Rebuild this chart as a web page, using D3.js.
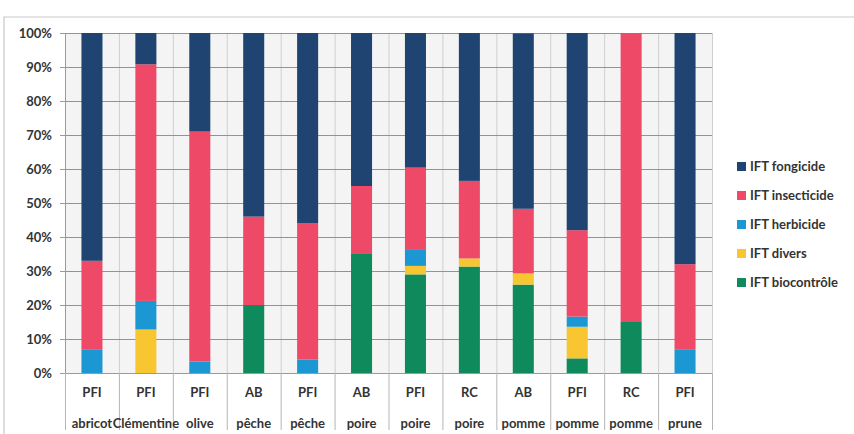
<!DOCTYPE html>
<html><head><meta charset="utf-8">
<script src="https://cdn.jsdelivr.net/npm/d3@7"></script>
<style>
body{margin:0;background:#fff;}
svg{display:block;}
text{font-family:Lato,"Open Sans",sans-serif;font-weight:700;fill:#333;}
</style></head>
<body><svg id="c" width="854" height="434"></svg>
<script>
const systems = ["PFI","PFI","PFI","AB","PFI","AB","PFI","RC","AB","PFI","RC","PFI"];
const crops = ["abricot","Clémentine","olive","pêche","pêche","poire","poire","poire","pomme","pomme","pomme","prune"];
const seriesNames = ["IFT biocontrôle","IFT divers","IFT herbicide","IFT insecticide","IFT fongicide"];
const biocontrole = [0, 0, 0, 20, 0, 35, 29, 31.3, 26, 4.3, 15, 0];
const divers      = [0, 12.8, 0, 0, 0, 0, 2.5, 2.4, 3.3, 9.3, 0, 0];
const herbicide   = [7, 8.4, 3.4, 0, 4, 0, 4.7, 0, 0, 3, 0, 7];
const insecticide = [26, 69.6, 67.6, 26, 40, 20, 24.2, 22.8, 19, 25.4, 85, 25];
const fongicide   = [67, 9.2, 29, 54, 56, 45, 39.6, 43.5, 51.6, 58, 0, 68];
const colors = ["#0f8a5c","#f7c631","#1b98d3","#ee4a68","#1f4472"];
const yTicks = [0,10,20,30,40,50,60,70,80,90,100];
const legendOrder = ["IFT fongicide","IFT insecticide","IFT herbicide","IFT divers","IFT biocontrôle"];

const svg = d3.select("#c");
const L = 65, R = 712, T = 33, B = 373;
const data = crops.map((c,i)=>({i, "IFT biocontrôle":biocontrole[i], "IFT divers":divers[i],
  "IFT herbicide":herbicide[i], "IFT insecticide":insecticide[i], "IFT fongicide":fongicide[i]}));
const x = d3.scaleBand().domain(d3.range(crops.length)).range([L,R]).paddingInner(0.61).paddingOuter(0.305);
const xb = d3.scaleBand().domain(d3.range(crops.length)).range([L,R]);
const y = d3.scaleLinear().domain([0,100]).range([B,T]);
const color = d3.scaleOrdinal().domain(seriesNames).range(colors);

svg.append("path").attr("d",`M4,434 V17 H854`).attr("fill","none").attr("stroke","#c9c9c9").attr("stroke-width",1.2);
svg.append("rect").attr("x",L).attr("y",T).attr("width",R-L).attr("height",B-T).attr("fill","#f4f4f4");

svg.append("g").selectAll("line").data(d3.range(crops.length+1)).join("line")
  .attr("x1",d=>d<crops.length?xb(d)+0.5:R+0.5).attr("x2",d=>d<crops.length?xb(d)+0.5:R+0.5)
  .attr("y1",T).attr("y2",B).attr("stroke","#cfcfcf");
svg.append("g").selectAll("line").data(yTicks).join("line")
  .attr("x1",L).attr("x2",R).attr("y1",d=>y(d)+0.5).attr("y2",d=>y(d)+0.5)
  .attr("stroke","#7d8490").attr("stroke-width",1).attr("opacity",0.85);

const stack = d3.stack().keys(seriesNames)(data);
svg.append("g").selectAll("g").data(stack).join("g").attr("fill",d=>color(d.key))
  .selectAll("rect").data(d=>d).join("rect")
  .attr("x",d=>x(d.data.i)).attr("width",x.bandwidth())
  .attr("y",d=>y(d[1])).attr("height",d=>Math.max(0,y(d[0])-y(d[1])));

const ya = svg.append("g").attr("transform",`translate(${L},0)`)
  .call(d3.axisLeft(y).tickValues(yTicks).tickFormat(d=>d+"%").tickSize(5).tickPadding(8));
ya.select(".domain").attr("stroke","#9a9a9a");
ya.selectAll(".tick line").attr("stroke","#9a9a9a");
ya.selectAll("text").style("font-size","13px").attr("fill","#333");

svg.append("line").attr("x1",L).attr("x2",R).attr("y1",B+0.5).attr("y2",B+0.5).attr("stroke","#9a9a9a");
svg.append("g").selectAll("line").data(d3.range(crops.length+1)).join("line")
  .attr("x1",d=>d<crops.length?xb(d)+0.5:R+0.5).attr("x2",d=>d<crops.length?xb(d)+0.5:R+0.5)
  .attr("y1",B).attr("y2",430).attr("stroke","#b5b5b5");

const lab = svg.append("g").selectAll("g").data(d3.range(crops.length)).join("g")
  .attr("transform",d=>`translate(${xb(d)+xb.bandwidth()/2},0)`);
lab.append("text").attr("y",397).attr("text-anchor","middle").style("font-size","13px").text(d=>systems[d]);
lab.append("text").attr("y",428).attr("text-anchor","middle").style("font-size","13px").text(d=>crops[d]);

const lg = svg.append("g").selectAll("g").data(legendOrder).join("g")
  .attr("transform",(d,i)=>`translate(737,${166+i*29})`);
lg.append("rect").attr("x",0).attr("y",-4).attr("width",9).attr("height",9).attr("fill",d=>color(d));
lg.append("text").attr("x",13).attr("y",5).style("font-size","13px").attr("fill","#333").text(d=>d);
</script></body></html>
